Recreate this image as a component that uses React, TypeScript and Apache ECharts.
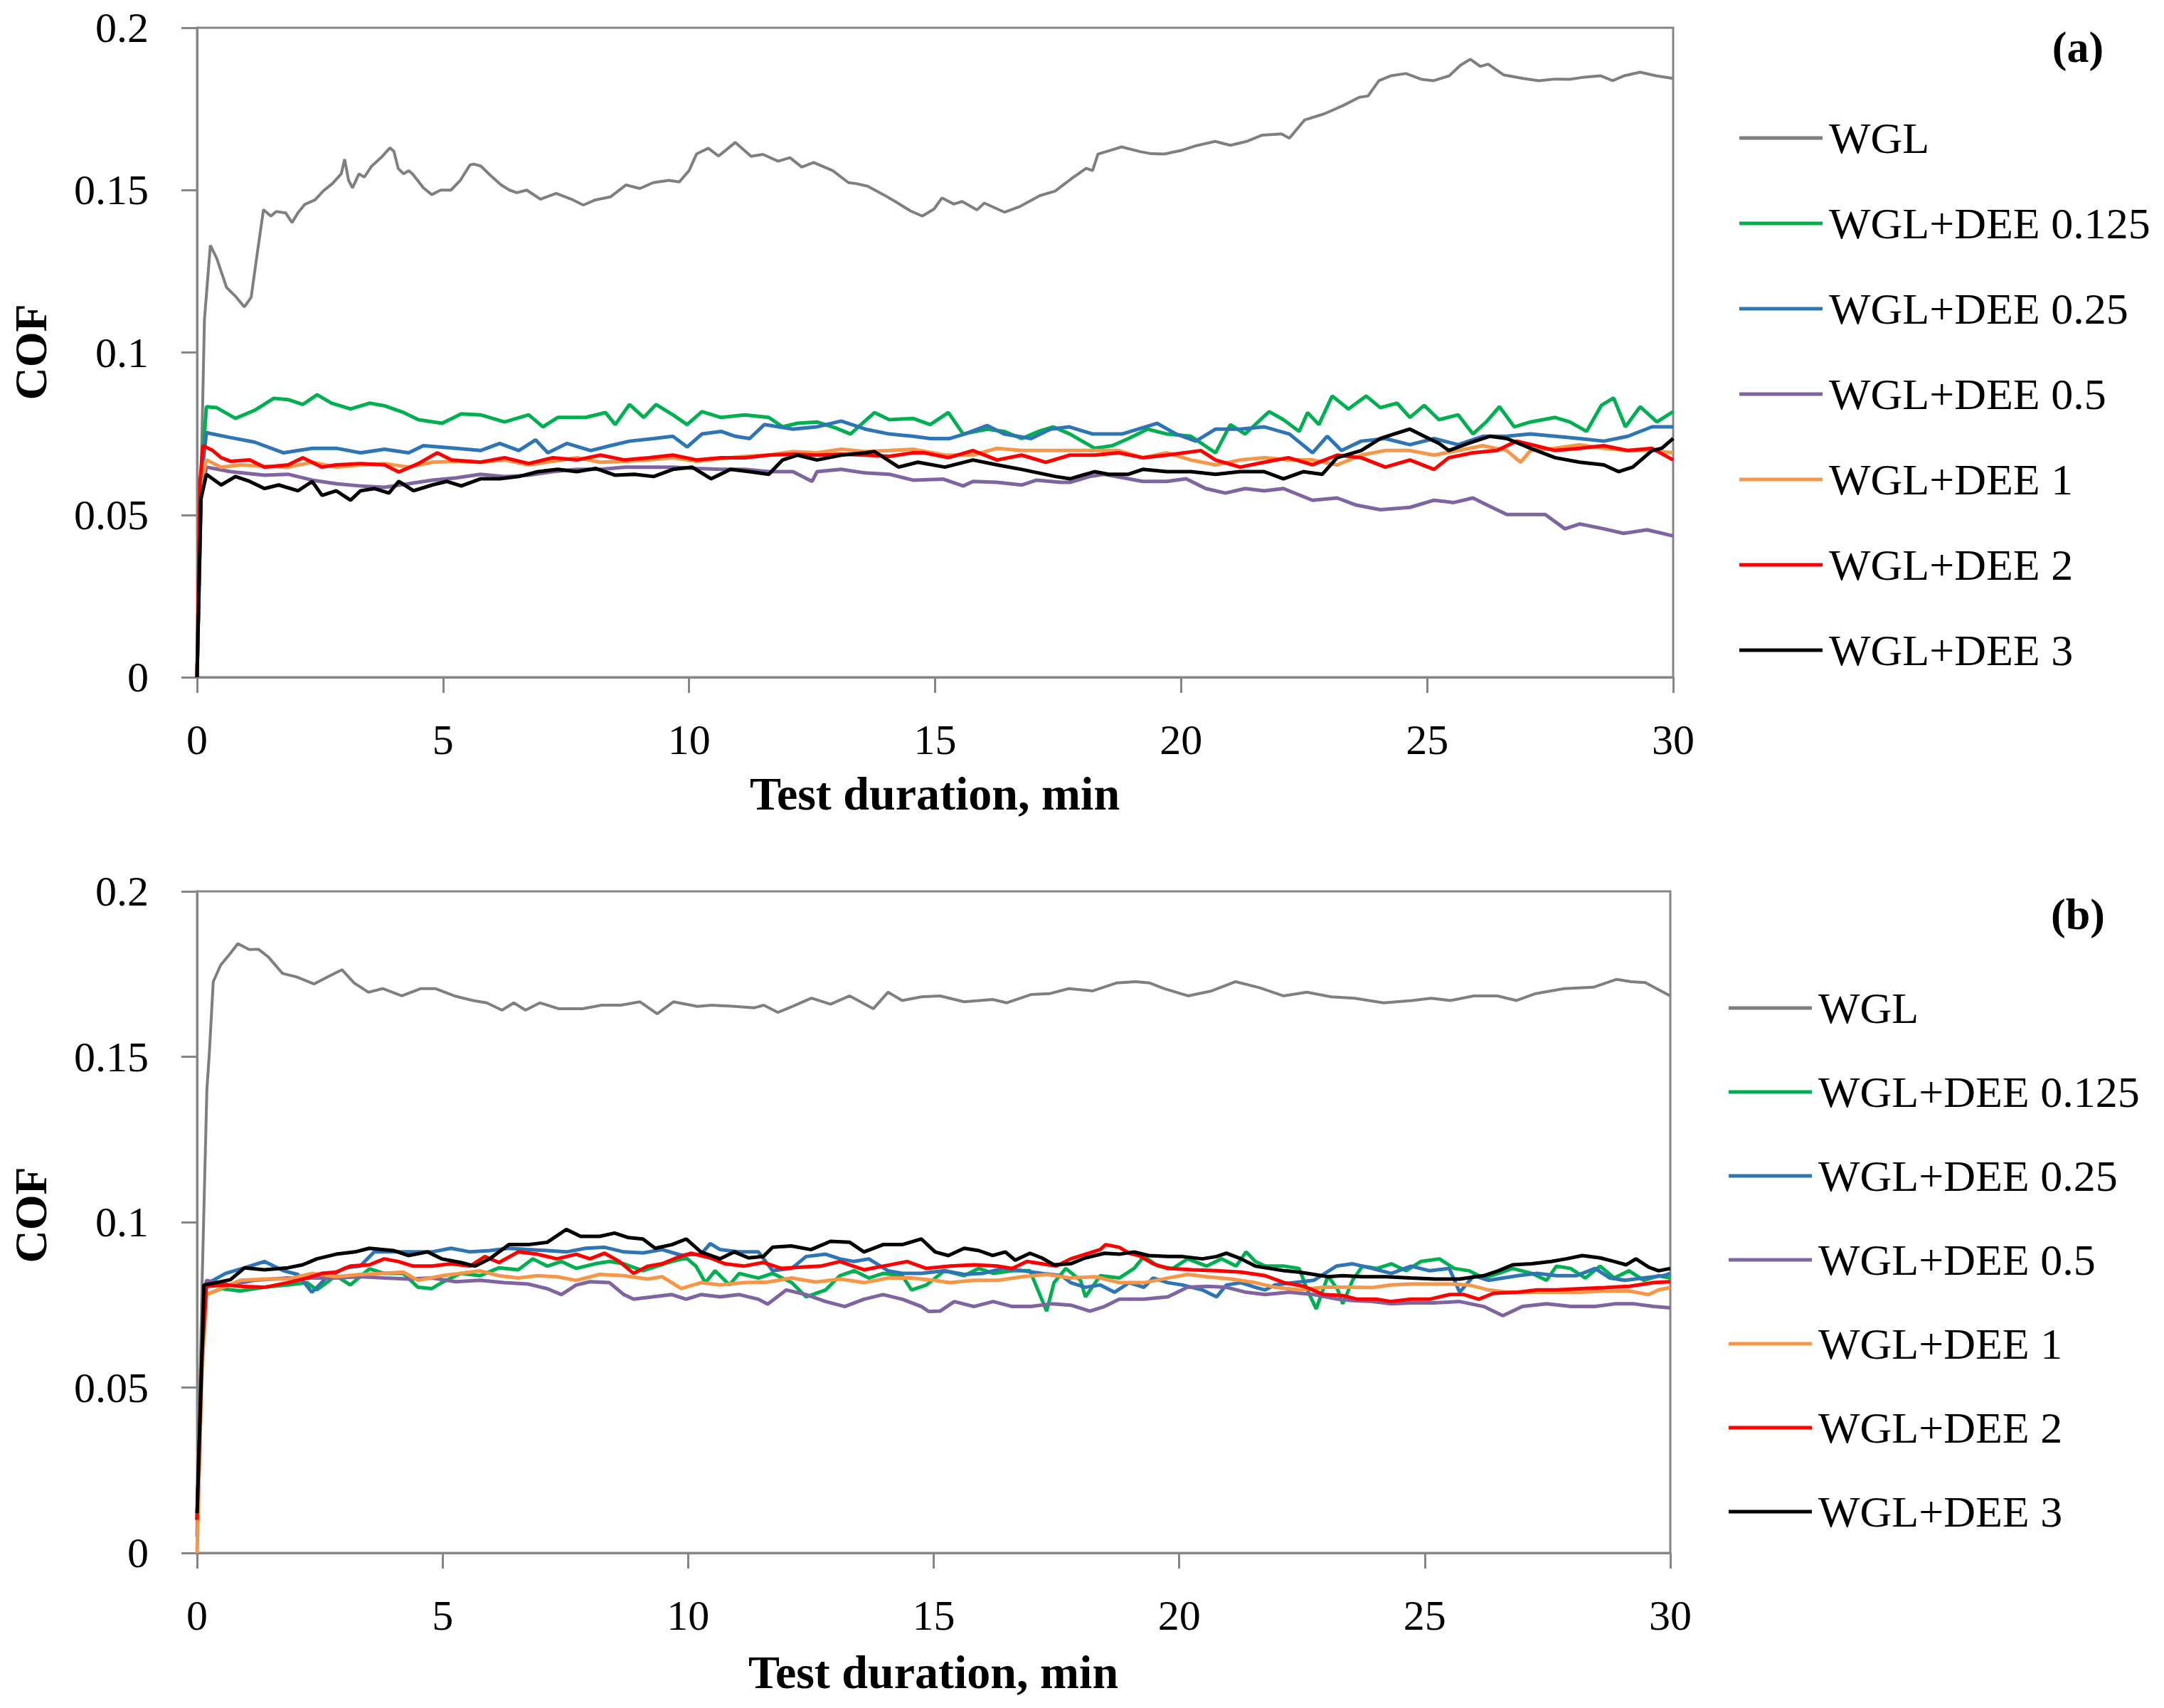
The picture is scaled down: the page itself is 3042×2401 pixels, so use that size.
import React, { useEffect, useRef } from 'react';
import * as echarts from 'echarts';

type Pt = [number, number];

// names and colours shared by both panels
const seriesNames = ['WGL', 'WGL+DEE 0.125', 'WGL+DEE 0.25', 'WGL+DEE 0.5', 'WGL+DEE 1', 'WGL+DEE 2', 'WGL+DEE 3'];
const seriesColors = ['#7F7F7F', '#00B050', '#2E75B6', '#8064A2', '#F79646', '#FF0000', '#000000'];
const xTicks = [0, 5, 10, 15, 20, 25, 30];
const yTicks = [0, 0.05, 0.1, 0.15, 0.2];

// panel (a): [time min, COF]
const aWGL: Pt[] = [[0,0],[0.08,0.06],[0.15,0.11],[0.27,0.133],[0.4,0.129],[0.6,0.12],[0.8,0.117],[0.96,0.114],[1.1,0.117],[1.2,0.128],[1.35,0.144],[1.5,0.142],[1.61,0.1434],[1.8,0.143],[1.93,0.14],[2.05,0.143],[2.19,0.1456],[2.4,0.147],[2.57,0.1498],[2.75,0.152],[2.93,0.155],[3.0,0.1595],[3.08,0.153],[3.16,0.1507],[3.29,0.155],[3.4,0.154],[3.55,0.1574],[3.74,0.16],[3.92,0.163],[4.0,0.162],[4.09,0.1566],[4.2,0.155],[4.3,0.156],[4.38,0.155],[4.6,0.1507],[4.77,0.1486],[4.95,0.15],[5.16,0.15],[5.35,0.153],[5.55,0.1578],[5.63,0.158],[5.77,0.1574],[5.95,0.1547],[6.18,0.1516],[6.35,0.15],[6.5,0.1492],[6.7,0.15],[6.98,0.1472],[7.3,0.149],[7.61,0.1472],[7.85,0.1454],[8.1,0.147],[8.4,0.1479],[8.72,0.1516],[9.0,0.1505],[9.27,0.1523],[9.59,0.153],[9.8,0.1525],[10.0,0.156],[10.15,0.1611],[10.39,0.1629],[10.6,0.1605],[10.94,0.1647],[11.26,0.1604],[11.5,0.161],[11.81,0.1589],[12.05,0.16],[12.29,0.1571],[12.53,0.1585],[12.92,0.156],[13.24,0.1523],[13.4,0.152],[13.63,0.1512],[13.95,0.1486],[14.19,0.1465],[14.5,0.1436],[14.74,0.142],[14.98,0.1442],[15.14,0.1476],[15.38,0.1457],[15.55,0.1465],[15.85,0.1439],[16.0,0.146],[16.41,0.1432],[16.73,0.145],[17.13,0.1483],[17.44,0.1497],[17.76,0.1534],[18.07,0.1567],[18.2,0.156],[18.31,0.1611],[18.55,0.1622],[18.79,0.1633],[19.18,0.1618],[19.4,0.1612],[19.66,0.1611],[20.0,0.1622],[20.29,0.1636],[20.69,0.165],[21.0,0.1638],[21.33,0.165],[21.64,0.1669],[22.04,0.1673],[22.2,0.166],[22.51,0.1716],[22.91,0.1735],[23.3,0.1761],[23.62,0.1786],[23.8,0.179],[24.02,0.1837],[24.26,0.1852],[24.57,0.1859],[24.89,0.1841],[25.13,0.1837],[25.45,0.1852],[25.68,0.1885],[25.88,0.1903],[26.08,0.1881],[26.24,0.1888],[26.55,0.1855],[26.95,0.1844],[27.27,0.1837],[27.6,0.1842],[27.9,0.1841],[28.2,0.1848],[28.53,0.1852],[28.77,0.1837],[29.0,0.1852],[29.33,0.1863],[29.65,0.1852],[30,0.1844]];
const aDEE0125: Pt[] = [[0,0],[0.08,0.06],[0.19,0.0833],[0.4,0.083],[0.78,0.0797],[1.17,0.0822],[1.56,0.0859],[1.85,0.0855],[2.15,0.084],[2.44,0.087],[2.73,0.0844],[3.12,0.0826],[3.51,0.0844],[3.81,0.0836],[4.2,0.0815],[4.5,0.0793],[4.98,0.0782],[5.37,0.0811],[5.76,0.0808],[6.25,0.0786],[6.74,0.0808],[7.03,0.0771],[7.33,0.08],[7.9,0.08],[8.3,0.0815],[8.5,0.0778],[8.79,0.084],[9.08,0.08],[9.33,0.084],[9.67,0.0808],[9.96,0.0778],[10.26,0.0818],[10.65,0.08],[11.13,0.0808],[11.62,0.08],[11.9,0.0771],[12.2,0.0782],[12.6,0.0786],[12.99,0.0767],[13.28,0.0749],[13.77,0.0815],[14.07,0.0793],[14.55,0.0797],[14.9,0.0778],[15.27,0.0815],[15.57,0.0749],[16.06,0.0764],[16.4,0.0757],[16.76,0.0735],[17.1,0.0757],[17.4,0.0771],[17.74,0.0749],[18.24,0.0705],[18.6,0.0713],[18.93,0.0735],[19.32,0.0764],[19.71,0.0749],[20.2,0.0742],[20.7,0.0691],[21.0,0.0778],[21.3,0.0749],[21.79,0.0818],[22.08,0.0793],[22.4,0.0757],[22.57,0.0815],[22.8,0.0778],[23.07,0.0866],[23.4,0.0826],[23.76,0.0866],[24.05,0.083],[24.39,0.0844],[24.65,0.08],[24.94,0.0837],[25.24,0.0793],[25.63,0.0808],[25.93,0.0749],[26.2,0.0786],[26.47,0.0833],[26.77,0.0771],[27.1,0.0786],[27.6,0.08],[27.9,0.0786],[28.24,0.0757],[28.54,0.0837],[28.79,0.086],[29.03,0.0771],[29.33,0.0833],[29.67,0.0786],[30,0.0818]];
const aDEE025: Pt[] = [[0,0],[0.08,0.06],[0.19,0.0753],[0.68,0.0738],[1.17,0.0724],[1.76,0.0691],[2.34,0.0705],[2.83,0.0705],[3.32,0.0691],[3.81,0.0702],[4.3,0.0691],[4.6,0.0713],[5.27,0.0705],[5.76,0.0698],[6.15,0.072],[6.54,0.0698],[6.88,0.0731],[7.13,0.0691],[7.52,0.072],[8.0,0.0698],[8.4,0.0713],[8.79,0.0727],[9.28,0.0735],[9.67,0.0742],[9.96,0.0709],[10.26,0.0749],[10.65,0.0757],[10.94,0.0742],[11.23,0.0735],[11.53,0.0778],[12.11,0.0764],[12.6,0.0771],[13.09,0.0789],[13.58,0.0764],[14.07,0.0749],[14.55,0.0742],[14.9,0.0735],[15.3,0.0735],[15.6,0.0749],[16.06,0.0775],[16.4,0.0749],[16.95,0.0735],[17.35,0.0764],[17.73,0.0771],[18.2,0.0749],[18.8,0.0749],[19.51,0.0782],[19.9,0.0749],[20.3,0.0727],[20.7,0.0764],[21.2,0.0764],[21.69,0.0771],[22.2,0.0749],[22.67,0.0691],[22.97,0.0742],[23.26,0.0698],[23.66,0.0727],[24.15,0.0735],[24.65,0.0716],[25.14,0.0735],[25.63,0.0716],[26.13,0.0742],[26.62,0.0742],[27.1,0.0749],[27.6,0.0742],[28.1,0.0735],[28.59,0.0727],[29.08,0.0742],[29.57,0.0771],[30,0.0771]];
const aDEE05: Pt[] = [[0,0],[0.08,0.055],[0.19,0.0647],[0.68,0.0633],[1.37,0.0622],[1.85,0.0625],[2.34,0.0607],[2.83,0.0596],[3.32,0.0589],[3.81,0.0585],[4.3,0.0596],[4.78,0.0607],[5.27,0.0614],[5.76,0.0625],[6.25,0.0618],[6.74,0.0622],[7.23,0.0633],[7.72,0.064],[8.2,0.064],[8.69,0.0647],[9.18,0.0647],[9.67,0.0647],[10.16,0.0643],[10.65,0.064],[11.13,0.064],[11.62,0.0633],[12.11,0.0633],[12.5,0.0603],[12.6,0.0633],[13.09,0.064],[13.58,0.0629],[14.07,0.0625],[14.55,0.0607],[15.17,0.061],[15.57,0.0589],[15.77,0.0603],[16.26,0.06],[16.76,0.0592],[17.06,0.0607],[17.55,0.06],[17.74,0.06],[18.14,0.0618],[18.43,0.0625],[18.93,0.0611],[19.22,0.0603],[19.71,0.0603],[20.1,0.0611],[20.5,0.0581],[20.9,0.0567],[21.3,0.0581],[21.69,0.0574],[22.08,0.0581],[22.67,0.0545],[23.17,0.0552],[23.56,0.053],[24.05,0.0516],[24.65,0.0523],[25.14,0.0545],[25.54,0.0538],[25.93,0.0552],[26.22,0.053],[26.62,0.0501],[27.1,0.0501],[27.4,0.0501],[27.8,0.0457],[28.1,0.0472],[28.59,0.0457],[28.99,0.0443],[29.47,0.0454],[30,0.0435]];
const aDEE1: Pt[] = [[0,0],[0.08,0.06],[0.19,0.0669],[0.49,0.0647],[0.88,0.0654],[1.37,0.065],[1.85,0.0647],[2.34,0.0662],[2.83,0.0647],[3.32,0.0654],[3.81,0.0658],[4.3,0.0647],[4.78,0.0662],[5.27,0.0665],[5.76,0.0662],[6.25,0.0669],[6.74,0.0654],[7.23,0.0665],[7.72,0.0676],[8.2,0.0662],[8.69,0.0665],[9.18,0.0669],[9.67,0.0676],[10.16,0.0665],[10.65,0.0673],[11.13,0.068],[11.62,0.0684],[12.11,0.0695],[12.6,0.0691],[13.09,0.0702],[13.58,0.0695],[14.07,0.0698],[14.55,0.0702],[15.2,0.0684],[15.77,0.0684],[16.26,0.0705],[16.76,0.0698],[17.74,0.0698],[18.73,0.0698],[19.22,0.0676],[19.71,0.0691],[20.2,0.0669],[20.7,0.0654],[21.2,0.0669],[21.69,0.0676],[22.18,0.0669],[22.67,0.0669],[23.17,0.0654],[23.66,0.0684],[24.15,0.0698],[24.65,0.0698],[25.14,0.0684],[25.63,0.0698],[26.13,0.0713],[26.62,0.0698],[26.9,0.0662],[27.1,0.0698],[27.6,0.0705],[28.1,0.0716],[28.59,0.0705],[29.08,0.0698],[29.57,0.0698],[30,0.0691]];
const aDEE2: Pt[] = [[0,0],[0.06,0.06],[0.12,0.0713],[0.3,0.07],[0.49,0.0676],[0.68,0.0665],[1.07,0.0669],[1.37,0.0647],[1.85,0.0654],[2.15,0.0676],[2.54,0.0647],[2.83,0.0654],[3.32,0.0658],[3.81,0.0654],[4.1,0.0632],[4.5,0.0658],[4.88,0.0691],[5.17,0.0669],[5.76,0.0662],[6.25,0.0676],[6.74,0.0658],[7.23,0.0676],[7.72,0.0669],[8.2,0.0684],[8.69,0.0669],[9.18,0.0676],[9.67,0.0684],[10.16,0.0669],[10.65,0.0676],[11.13,0.0676],[11.62,0.0684],[12.11,0.0687],[12.6,0.0684],[13.09,0.0687],[13.58,0.0684],[14.07,0.068],[14.55,0.0691],[14.78,0.0691],[15.27,0.0676],[15.77,0.0698],[16.26,0.0669],[16.76,0.0684],[17.25,0.0662],[17.74,0.0684],[18.24,0.0684],[18.73,0.0691],[19.22,0.0676],[19.71,0.0684],[20.4,0.0698],[20.7,0.0669],[21.2,0.0647],[21.69,0.0662],[22.18,0.0676],[22.67,0.0654],[23.17,0.0684],[23.66,0.0676],[24.15,0.0647],[24.65,0.0669],[25.14,0.064],[25.44,0.0676],[25.93,0.0691],[26.42,0.0698],[26.82,0.0727],[27.2,0.0713],[27.6,0.0698],[28.1,0.0705],[28.59,0.0713],[29.08,0.0698],[29.57,0.0705],[30,0.0669]];
const aDEE3: Pt[] = [[0,0],[0.08,0.055],[0.19,0.0625],[0.49,0.0592],[0.78,0.0618],[1.07,0.0603],[1.37,0.0581],[1.66,0.0592],[2.05,0.0574],[2.34,0.0603],[2.54,0.056],[2.83,0.0574],[3.12,0.0545],[3.32,0.0574],[3.61,0.0581],[3.9,0.0567],[4.1,0.0603],[4.4,0.0574],[4.78,0.0592],[5.07,0.0603],[5.37,0.0589],[5.76,0.0611],[6.15,0.0611],[6.54,0.0618],[6.93,0.0633],[7.33,0.064],[7.72,0.0633],[8.1,0.0643],[8.5,0.0622],[8.89,0.0625],[9.28,0.0618],[9.67,0.064],[10.06,0.0647],[10.45,0.0611],[10.84,0.064],[11.23,0.0633],[11.62,0.0625],[11.9,0.0669],[12.2,0.0684],[12.6,0.0669],[13.09,0.0684],[13.58,0.0691],[13.77,0.0695],[14.26,0.0647],[14.65,0.0662],[15.2,0.0647],[15.77,0.0669],[16.26,0.0654],[16.76,0.064],[17.45,0.0618],[17.74,0.0611],[18.24,0.0633],[18.53,0.0625],[18.93,0.0625],[19.22,0.064],[19.71,0.0633],[20.2,0.0633],[20.7,0.0625],[21.2,0.0633],[21.69,0.0633],[22.08,0.0611],[22.48,0.0633],[22.87,0.0625],[23.17,0.0676],[23.66,0.0698],[24.05,0.0735],[24.35,0.075],[24.65,0.0764],[24.94,0.0742],[25.24,0.072],[25.44,0.0698],[25.83,0.072],[26.27,0.0742],[26.62,0.0735],[27.1,0.0705],[27.6,0.0676],[28.1,0.0662],[28.59,0.0654],[28.89,0.0633],[29.18,0.0647],[29.57,0.0698],[29.77,0.0705],[30,0.0735]];

// panel (b)
const bWGL: Pt[] = [[0,0.01],[0.1,0.08],[0.2,0.14],[0.25,0.151],[0.33,0.1727],[0.48,0.1777],[0.68,0.1813],[0.83,0.1842],[1.06,0.1824],[1.25,0.1825],[1.45,0.1802],[1.74,0.1752],[2.03,0.1741],[2.38,0.172],[2.71,0.1745],[2.95,0.1763],[3.2,0.1723],[3.49,0.1695],[3.78,0.1706],[4.17,0.1684],[4.56,0.1706],[4.85,0.1706],[5.24,0.1684],[5.62,0.167],[5.9,0.1663],[6.21,0.1641],[6.45,0.1663],[6.69,0.1641],[6.98,0.1663],[7.37,0.1645],[7.85,0.1645],[8.24,0.1656],[8.63,0.1656],[9.02,0.1666],[9.37,0.163],[9.7,0.1666],[10.19,0.1652],[10.48,0.1656],[10.96,0.1652],[11.35,0.1648],[11.54,0.1656],[11.83,0.1634],[12.12,0.1652],[12.51,0.1677],[12.9,0.1659],[13.29,0.1684],[13.77,0.1645],[14.07,0.1695],[14.36,0.167],[14.75,0.1681],[15.13,0.1684],[15.62,0.1666],[16.2,0.1673],[16.49,0.1663],[16.98,0.1688],[17.37,0.1691],[17.75,0.1706],[18.24,0.1699],[18.72,0.1723],[19.11,0.1727],[19.4,0.1723],[19.69,0.1706],[20.18,0.1684],[20.66,0.1699],[21.15,0.1727],[21.63,0.1709],[22.12,0.1684],[22.6,0.1695],[23.09,0.1681],[23.57,0.1677],[24.16,0.1663],[24.74,0.167],[25.13,0.1677],[25.52,0.167],[26.0,0.1684],[26.48,0.1684],[26.87,0.167],[27.26,0.1691],[27.84,0.1706],[28.43,0.171],[28.91,0.1734],[29.2,0.1727],[29.49,0.1724],[30,0.1684]];
const bDEE0125: Pt[] = [[0,0.01],[0.1,0.06],[0.19,0.0781],[0.5,0.0799],[0.88,0.0792],[1.37,0.0803],[1.85,0.081],[2.24,0.0817],[2.44,0.0795],[2.83,0.0838],[3.12,0.081],[3.51,0.0859],[3.81,0.0845],[4.2,0.0845],[4.5,0.0803],[4.78,0.0799],[4.98,0.0817],[5.37,0.0845],[5.76,0.0838],[6.15,0.0862],[6.54,0.0856],[6.84,0.0889],[7.13,0.0867],[7.42,0.0881],[7.72,0.086],[8.1,0.0874],[8.4,0.0881],[8.69,0.0874],[9.08,0.0853],[9.37,0.0867],[9.67,0.0881],[9.96,0.0892],[10.16,0.0867],[10.35,0.0817],[10.55,0.0853],[10.84,0.081],[11.04,0.0845],[11.43,0.0831],[11.72,0.0845],[12.11,0.0817],[12.4,0.0774],[12.8,0.0795],[13.09,0.0838],[13.38,0.0853],[13.68,0.0831],[13.97,0.0845],[14.36,0.0838],[14.55,0.0795],[14.85,0.081],[15.22,0.0853],[15.62,0.0838],[15.92,0.086],[16.22,0.0845],[16.6,0.0853],[16.96,0.0853],[17.2,0.0767],[17.3,0.0731],[17.45,0.0817],[17.69,0.086],[17.99,0.0824],[18.09,0.0774],[18.39,0.0838],[18.78,0.0831],[19.08,0.086],[19.28,0.0896],[19.57,0.0867],[19.87,0.086],[20.17,0.0889],[20.56,0.0867],[20.86,0.0889],[21.16,0.0867],[21.36,0.091],[21.55,0.0881],[21.75,0.0867],[22.14,0.0867],[22.44,0.086],[22.63,0.0788],[22.79,0.0738],[23.03,0.0838],[23.23,0.0795],[23.33,0.0753],[23.53,0.0824],[23.73,0.0867],[24.03,0.086],[24.32,0.0874],[24.62,0.0853],[24.92,0.0881],[25.3,0.0889],[25.6,0.086],[25.9,0.0853],[26.2,0.0831],[26.5,0.0845],[26.79,0.086],[27.18,0.0845],[27.48,0.0824],[27.68,0.0867],[27.97,0.086],[28.27,0.0831],[28.57,0.0867],[28.86,0.0831],[29.16,0.0853],[29.46,0.0824],[29.76,0.0838],[30,0.0831]];
const bDEE025: Pt[] = [[0,0.01],[0.1,0.06],[0.19,0.0813],[0.58,0.0845],[0.97,0.0862],[1.37,0.0881],[1.76,0.0853],[2.05,0.0842],[2.34,0.0788],[2.63,0.0831],[3.02,0.0862],[3.32,0.0867],[3.61,0.091],[4.0,0.091],[4.4,0.091],[4.78,0.091],[5.17,0.0921],[5.56,0.091],[5.96,0.0914],[6.35,0.0921],[6.74,0.0917],[7.13,0.0914],[7.52,0.091],[7.91,0.0921],[8.3,0.0924],[8.69,0.091],[9.08,0.0907],[9.47,0.0917],[9.86,0.09],[10.26,0.0903],[10.45,0.0935],[10.65,0.0917],[11.04,0.091],[11.43,0.091],[11.72,0.0853],[12.11,0.086],[12.4,0.0896],[12.8,0.0903],[13.09,0.0889],[13.38,0.0881],[13.68,0.0889],[14.07,0.0853],[14.36,0.0845],[14.75,0.0845],[15.23,0.0853],[15.62,0.0842],[16.0,0.0845],[16.4,0.086],[16.81,0.0853],[17.2,0.0845],[17.6,0.0838],[17.79,0.0817],[18.09,0.0803],[18.39,0.081],[18.68,0.0788],[18.98,0.0817],[19.28,0.0803],[19.47,0.0831],[19.77,0.0817],[20.07,0.081],[20.47,0.0795],[20.76,0.0774],[20.96,0.081],[21.26,0.0817],[21.55,0.0803],[21.75,0.0795],[21.95,0.081],[22.34,0.0817],[22.74,0.0824],[23.2,0.0867],[23.53,0.0874],[23.93,0.086],[24.32,0.0845],[24.72,0.0867],[25.1,0.0853],[25.5,0.086],[25.71,0.0788],[26.0,0.0838],[26.3,0.0824],[26.6,0.0831],[26.9,0.0838],[27.29,0.0845],[27.68,0.0838],[28.08,0.0838],[28.47,0.086],[28.77,0.0831],[29.07,0.0824],[29.46,0.0831],[29.86,0.0838],[30,0.0845]];
const bDEE05: Pt[] = [[0,0.005],[0.1,0.06],[0.19,0.0824],[0.68,0.081],[1.17,0.0824],[1.85,0.0831],[2.34,0.0831],[2.83,0.0831],[3.32,0.0835],[3.81,0.0831],[4.3,0.0828],[4.78,0.0831],[5.27,0.082],[5.76,0.0824],[6.25,0.0817],[6.74,0.0813],[7.13,0.0799],[7.42,0.0781],[7.72,0.081],[8.0,0.082],[8.4,0.0817],[8.69,0.0781],[8.89,0.0767],[9.28,0.0774],[9.67,0.0781],[9.96,0.0767],[10.26,0.0781],[10.65,0.0774],[11.04,0.0781],[11.43,0.0767],[11.62,0.0752],[12.0,0.0795],[12.4,0.0781],[12.8,0.076],[13.19,0.0745],[13.58,0.0767],[13.97,0.0781],[14.36,0.0767],[14.75,0.0745],[14.9,0.073],[15.13,0.0731],[15.42,0.076],[15.82,0.0745],[16.21,0.076],[16.6,0.0745],[16.98,0.0745],[17.4,0.0753],[17.79,0.0749],[18.18,0.0731],[18.48,0.0745],[18.78,0.0767],[19.28,0.0767],[19.77,0.0774],[20.17,0.0803],[20.56,0.0806],[20.96,0.0803],[21.36,0.0788],[21.75,0.0781],[22.24,0.0788],[22.74,0.0781],[23.23,0.0767],[23.53,0.0763],[23.93,0.076],[24.32,0.0753],[24.72,0.0756],[25.2,0.0756],[25.71,0.076],[26.2,0.0745],[26.59,0.0717],[26.99,0.0745],[27.48,0.0753],[27.98,0.0745],[28.47,0.0745],[28.87,0.0753],[29.26,0.0753],[29.66,0.0745],[30,0.0741]];
const bDEE1: Pt[] = [[0,0],[0.1,0.055],[0.19,0.0781],[0.88,0.0824],[1.37,0.0828],[1.85,0.0828],[2.34,0.0845],[2.83,0.0835],[3.32,0.0842],[3.81,0.0845],[4.2,0.0849],[4.5,0.0824],[4.98,0.0838],[5.37,0.0845],[5.76,0.0853],[6.15,0.0838],[6.54,0.0831],[6.93,0.0838],[7.33,0.0835],[7.72,0.0824],[8.2,0.0842],[8.69,0.0838],[9.18,0.0828],[9.47,0.0835],[9.86,0.0799],[10.26,0.0817],[10.65,0.081],[11.13,0.0817],[11.62,0.0819],[12.11,0.0831],[12.6,0.0819],[13.09,0.0828],[13.58,0.0817],[14.07,0.0831],[14.55,0.0831],[15.0,0.0824],[15.33,0.0817],[15.82,0.0824],[16.31,0.0824],[16.81,0.0835],[17.3,0.0842],[17.79,0.0831],[18.29,0.0835],[18.78,0.0817],[19.28,0.0817],[19.77,0.0831],[20.17,0.0842],[20.56,0.0835],[21.06,0.0828],[21.55,0.0817],[21.95,0.0803],[22.44,0.0795],[22.94,0.0803],[23.43,0.0803],[23.93,0.0802],[24.32,0.081],[24.72,0.0813],[25.1,0.0813],[25.5,0.0813],[25.9,0.081],[26.3,0.0795],[26.69,0.0788],[27.18,0.0788],[27.68,0.0788],[28.17,0.0788],[28.67,0.0792],[29.16,0.0792],[29.56,0.0781],[29.76,0.0795],[30,0.0802]];
const bDEE2: Pt[] = [[0,0.01],[0.1,0.06],[0.19,0.0806],[0.58,0.081],[0.88,0.0806],[1.37,0.0803],[1.85,0.0817],[2.24,0.0831],[2.54,0.0845],[2.83,0.0849],[3.12,0.0867],[3.51,0.0871],[3.81,0.0889],[4.1,0.0881],[4.4,0.0867],[4.78,0.0867],[5.17,0.0874],[5.56,0.0867],[5.86,0.0896],[6.15,0.0878],[6.54,0.091],[6.93,0.0903],[7.33,0.0889],[7.72,0.0903],[8.0,0.0889],[8.3,0.0906],[8.6,0.0881],[8.89,0.0845],[9.18,0.0867],[9.47,0.0874],[9.76,0.0892],[10.06,0.0906],[10.45,0.0892],[10.75,0.0874],[11.13,0.0867],[11.53,0.0878],[11.9,0.086],[12.3,0.0864],[12.7,0.0867],[13.09,0.0881],[13.58,0.0856],[13.97,0.0867],[14.46,0.0881],[14.85,0.086],[15.33,0.0867],[15.82,0.0871],[16.31,0.0867],[16.6,0.086],[16.9,0.0881],[17.2,0.0874],[17.5,0.0867],[17.79,0.0889],[18.09,0.0903],[18.39,0.0917],[18.5,0.0932],[18.78,0.0924],[18.98,0.0906],[19.18,0.0899],[19.47,0.0874],[19.77,0.086],[20.27,0.0856],[20.76,0.0853],[21.26,0.0849],[21.75,0.0838],[22.14,0.0817],[22.54,0.0806],[22.94,0.0781],[23.33,0.0778],[23.63,0.0767],[24.03,0.0767],[24.32,0.076],[24.72,0.0767],[25.1,0.0767],[25.5,0.0781],[25.8,0.0781],[26.1,0.0767],[26.4,0.0785],[26.9,0.0788],[27.29,0.0795],[27.68,0.0795],[28.17,0.0799],[28.67,0.0802],[29.16,0.0806],[29.66,0.0817],[30,0.082]];
const bDEE3: Pt[] = [[0,0.012],[0.1,0.06],[0.14,0.081],[0.39,0.0817],[0.68,0.0826],[0.97,0.0862],[1.37,0.0856],[1.85,0.0862],[2.15,0.0871],[2.44,0.0889],[2.83,0.0903],[3.22,0.091],[3.51,0.0921],[4.0,0.0914],[4.3,0.0899],[4.69,0.091],[4.98,0.0889],[5.37,0.0878],[5.66,0.0867],[5.96,0.0889],[6.35,0.0932],[6.74,0.0932],[7.13,0.0939],[7.52,0.0978],[7.81,0.0957],[8.2,0.0957],[8.5,0.0967],[8.79,0.0953],[9.08,0.0949],[9.33,0.0921],[9.67,0.0932],[9.96,0.0949],[10.26,0.091],[10.65,0.0889],[10.94,0.091],[11.23,0.0892],[11.53,0.0896],[11.72,0.0924],[12.1,0.0928],[12.5,0.0917],[12.9,0.0942],[13.29,0.0939],[13.58,0.091],[13.97,0.0932],[14.36,0.0932],[14.75,0.0949],[15.03,0.091],[15.3,0.0899],[15.62,0.0921],[15.92,0.0914],[16.2,0.0899],[16.46,0.091],[16.66,0.0885],[16.96,0.0906],[17.2,0.0892],[17.45,0.0871],[17.79,0.0874],[18.09,0.0892],[18.48,0.0906],[18.78,0.0903],[19.08,0.091],[19.38,0.0899],[19.77,0.0896],[20.07,0.0896],[20.47,0.0889],[20.76,0.0896],[20.96,0.0906],[21.26,0.0889],[21.55,0.0867],[21.85,0.086],[22.14,0.0853],[22.44,0.0849],[22.74,0.0842],[23.03,0.0835],[23.33,0.0838],[23.73,0.0835],[24.22,0.0835],[24.72,0.0831],[25.21,0.0828],[25.71,0.0828],[26.2,0.0838],[26.5,0.0853],[26.79,0.0871],[27.18,0.0874],[27.58,0.0881],[27.88,0.0889],[28.21,0.0899],[28.57,0.0892],[28.86,0.0881],[29.1,0.0871],[29.3,0.0889],[29.56,0.0864],[29.76,0.0853],[30,0.086]];

const panelA = [aWGL, aDEE0125, aDEE025, aDEE05, aDEE1, aDEE2, aDEE3];
const panelB = [bWGL, bDEE0125, bDEE025, bDEE05, bDEE1, bDEE2, bDEE3];

const FONT = '"Liberation Serif", "Times New Roman", serif';
const AXIS_GREY = '#868686';

const App: React.FC = () => {
  const chartRef = useRef<HTMLDivElement>(null);

  useEffect(() => {
    document.body.style.margin = '0';
    if (!chartRef.current) return;
    const chart = echarts.init(chartRef.current, undefined, { renderer: 'svg' });

    const grids = [
      { left: 277, top: 39, width: 2075, height: 913 },
      { left: 277, top: 1253, width: 2071, height: 930 }
    ];

    const axisBase = {
      axisLine: { show: true, onZero: false, lineStyle: { color: AXIS_GREY, width: 3 } },
      axisTick: { show: true, inside: false, length: 22, lineStyle: { color: AXIS_GREY, width: 3 } },
      splitLine: { show: false }
    };

    const xAxes = grids.map((_, i) => ({
      ...axisBase,
      type: 'value',
      gridIndex: i,
      min: xTicks[0],
      max: xTicks[xTicks.length - 1],
      interval: 5,
      axisLabel: { fontFamily: FONT, fontSize: 60, color: '#000', margin: 58 }
    }));

    const yAxes = grids.map((_, i) => ({
      ...axisBase,
      type: 'value',
      gridIndex: i,
      min: yTicks[0],
      max: yTicks[yTicks.length - 1],
      interval: 0.05,
      axisLabel: {
        fontFamily: FONT,
        fontSize: 60,
        color: '#000',
        margin: 68,
        formatter: (v: number) => String(Number(v.toFixed(2)))
      }
    }));

    const makeSeries = (data: Pt[][], idx: number) =>
      data.map((d, i) => ({
        name: seriesNames[i],
        type: 'line',
        xAxisIndex: idx,
        yAxisIndex: idx,
        data: d,
        symbol: 'none',
        showSymbol: false,
        lineStyle: { color: seriesColors[i], width: i === 0 ? 4 : 5 },
        itemStyle: { color: seriesColors[i] },
        z: 2 + i
      }));

    const legendBase = {
      data: seriesNames,
      orient: 'vertical',
      icon: 'rect',
      itemWidth: 117,
      itemHeight: 5,
      textStyle: { fontFamily: FONT, fontSize: 62, color: '#000', lineHeight: 60, padding: [0, 0, 0, 4] },
      selectedMode: false
    };

    const bigText = (text: string, x: number, y: number, size = 62, rotation = 0) => ({
      type: 'text',
      x,
      y,
      rotation,
      style: {
        text,
        fill: '#000',
        font: `bold ${size}px ${FONT}`,
        textAlign: 'center',
        textVerticalAlign: 'middle'
      }
    });

    const option = {
      animation: false,
      backgroundColor: '#fff',
      grid: grids.map(g => ({ ...g, show: true, borderColor: AXIS_GREY, borderWidth: 3, containLabel: false })),
      xAxis: xAxes,
      yAxis: yAxes,
      legend: [
        { ...legendBase, left: 2440, top: 158, itemGap: 58 },
        { ...legendBase, left: 2425, top: 1381, itemGap: 56 }
      ],
      series: [...makeSeries(panelA, 0), ...makeSeries(panelB, 1)],
      graphic: [
        bigText('COF', 43, 495, 64, Math.PI / 2),
        bigText('COF', 43, 1708, 64, Math.PI / 2),
        bigText('Test duration, min', 1314, 1115, 66),
        bigText('Test duration, min', 1312, 2350, 66),
        bigText('(a)', 2921, 66),
        bigText('(b)', 2921, 1285)
      ]
    };

    chart.setOption(option as any);

    return () => {
      chart.dispose();
    };
  }, []);

  return <div ref={chartRef} style={{ width: '3042px', height: '2401px' }} />;
};

export default App;
